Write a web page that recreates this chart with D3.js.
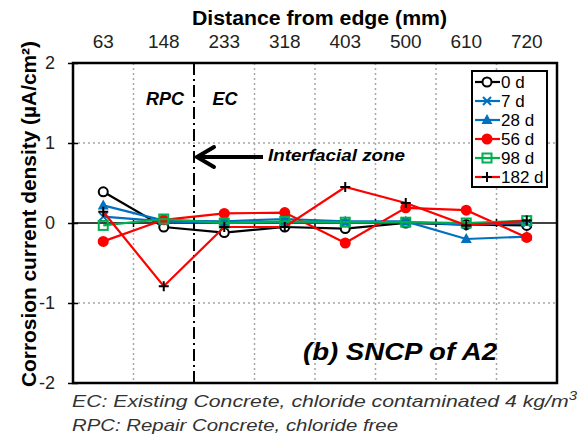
<!DOCTYPE html>
<html>
<head>
<meta charset="utf-8">
<script src="https://d3js.org/d3.v7.min.js"></script>
<style>
  body { margin: 0; background: #fff; }
  text { font-family: "Liberation Sans", Arial, sans-serif; }
</style>
</head>
<body>
<svg id="vis"></svg>
<script>
  // distances (mm) along the top axis
  var distances = ['63', '148', '233', '318', '403', '500', '610', '720'];
  var yTicks = [-2, -1, 0, 1, 2];

  // corrosion current density (uA/cm2) per age
  var d0   = [0.39, -0.05, -0.12, -0.05, -0.07, 0.00, -0.02, -0.03];
  var d7   = [0.08, 0.02, 0.00, 0.01, 0.00, 0.01, -0.02, 0.00];
  var d28  = [0.22, 0.03, 0.02, 0.05, 0.02, 0.02, -0.20, -0.17];
  var d56  = [-0.23, 0.04, 0.12, 0.13, -0.25, 0.19, 0.16, -0.18];
  var d98  = [-0.03, 0.05, 0.00, 0.02, 0.01, 0.01, 0.00, 0.03];
  var d182 = [0.14, -0.79, -0.05, -0.05, 0.45, 0.25, -0.03, 0.03];

  var series = [
    {name: '0 d',   values: d0,   line: '#000000', marker: 'circle-open', mcolor: '#000000'},
    {name: '7 d',   values: d7,   line: '#0070C0', marker: 'x',           mcolor: '#0070C0'},
    {name: '28 d',  values: d28,  line: '#0070C0', marker: 'triangle',    mcolor: '#0070C0'},
    {name: '56 d',  values: d56,  line: '#FF0000', marker: 'circle',      mcolor: '#FF0000'},
    {name: '98 d',  values: d98,  line: '#00B050', marker: 'square-open', mcolor: '#00B050'},
    {name: '182 d', values: d182, line: '#FF0000', marker: 'plus',        mcolor: '#000000'}
  ];

  var W = 584, H = 439;
  var pLeft = 73, pRight = 557, pTop = 63, pBottom = 383;

  var svg = d3.select('#vis').attr('width', W).attr('height', H);

  var x = d3.scaleBand().domain(distances).range([pLeft, pRight]);
  var y = d3.scaleLinear().domain([-2, 2]).range([pBottom, pTop]);

  // boundaries between categories
  var bounds = distances.slice(1).map(function(d) { return x(d); });

  // vertical gridlines (dotted) except the interface one
  svg.selectAll('.vgrid')
    .data(bounds.filter(function(b, i) { return i !== 1; }))
    .enter().append('line')
    .attr('x1', function(d) { return d; }).attr('x2', function(d) { return d; })
    .attr('y1', pTop).attr('y2', pBottom)
    .attr('stroke', '#a6a6a6').attr('stroke-width', 1.5)
    .attr('stroke-dasharray', '2,3');

  // horizontal gridlines
  svg.selectAll('.hgrid')
    .data([1, -1])
    .enter().append('line')
    .attr('x1', pLeft).attr('x2', pRight)
    .attr('y1', function(d) { return y(d); }).attr('y2', function(d) { return y(d); })
    .attr('stroke', '#a6a6a6').attr('stroke-width', 1.5)
    .attr('stroke-dasharray', '2,3');

  // interface line (dash-dot)
  svg.append('line')
    .attr('x1', bounds[1]).attr('x2', bounds[1])
    .attr('y1', pTop).attr('y2', pBottom)
    .attr('stroke', '#000').attr('stroke-width', 2)
    .attr('stroke-dasharray', '12,4,2,4');

  // zero line with category ticks
  svg.append('line')
    .attr('x1', pLeft).attr('x2', pRight)
    .attr('y1', y(0)).attr('y2', y(0))
    .attr('stroke', '#000').attr('stroke-width', 1.5);
  svg.selectAll('.xtick')
    .data(bounds)
    .enter().append('line')
    .attr('x1', function(d) { return d; }).attr('x2', function(d) { return d; })
    .attr('y1', y(0) - 4).attr('y2', y(0) + 4)
    .attr('stroke', '#000').attr('stroke-width', 1.5);

  // plot frame
  svg.append('rect')
    .attr('x', pLeft).attr('y', pTop)
    .attr('width', pRight - pLeft).attr('height', pBottom - pTop)
    .attr('fill', 'none').attr('stroke', '#000').attr('stroke-width', 2.5);

  // y axis
  var yAxis = svg.append('g')
    .attr('transform', 'translate(' + pLeft + ',0)')
    .call(d3.axisLeft(y).tickValues(yTicks).tickSize(5).tickPadding(13)
      .tickFormat(function(d) { return String(d); }));
  yAxis.select('.domain').remove();
  yAxis.selectAll('.tick line').attr('x1', 5).attr('x2', -5).attr('stroke-width', 1.5);
  yAxis.selectAll('text').attr('font-size', 18).attr('fill', '#222')
    .style('font-family', '"Liberation Sans", Arial, sans-serif');

  // top x axis
  var xAxis = svg.append('g')
    .attr('transform', 'translate(0,48)')
    .call(d3.axisTop(x).tickSize(0).tickPadding(0));
  xAxis.select('.domain').remove();
  xAxis.selectAll('text').attr('font-size', 19).attr('fill', '#222')
    .style('font-family', '"Liberation Sans", Arial, sans-serif');

  function fit(sel, w) {
    return sel.attr('textLength', w).attr('lengthAdjust', 'spacingAndGlyphs');
  }

  fit(svg.append('text')
    .attr('x', 192).attr('y', 25)
    .attr('font-size', 19.5).attr('font-weight', 'bold')
    .text('Distance from edge (mm)'), 255);

  fit(svg.append('text')
    .attr('transform', 'translate(36,214) rotate(-90)')
    .attr('text-anchor', 'middle')
    .attr('font-size', 20).attr('font-weight', 'bold')
    .text('Corrosion current density (µA/cm²)'), 346);

  // annotations
  svg.append('text').attr('x', 165).attr('y', 105).attr('text-anchor', 'middle')
    .attr('font-size', 18).attr('font-weight', 'bold').attr('font-style', 'italic').text('RPC');
  svg.append('text').attr('x', 225).attr('y', 105).attr('text-anchor', 'middle')
    .attr('font-size', 18).attr('font-weight', 'bold').attr('font-style', 'italic').text('EC');
  fit(svg.append('text').attr('x', 268).attr('y', 161)
    .attr('font-size', 17).attr('font-weight', 'bold').attr('font-style', 'italic').text('Interfacial zone'), 137);

  svg.append('line')
    .attr('x1', 263).attr('x2', 198).attr('y1', 157).attr('y2', 157)
    .attr('stroke', '#000').attr('stroke-width', 4);
  svg.append('path')
    .attr('d', 'M214,147 L197,157 L214,167')
    .attr('fill', 'none').attr('stroke', '#000').attr('stroke-width', 4)
    .attr('stroke-linecap', 'round');

  fit(svg.append('text').attr('x', 303).attr('y', 360)
    .attr('font-size', 23).attr('font-weight', 'bold').attr('font-style', 'italic').text('(b) SNCP of A2'), 194);

  fit(svg.append('text').attr('x', 72).attr('y', 407)
    .attr('font-size', 17).attr('font-style', 'italic').attr('fill', '#333')
    .html('EC: Existing Concrete, chloride contaminated 4 kg/m<tspan dy="-7" font-size="12">3</tspan>'), 505);
  fit(svg.append('text').attr('x', 72).attr('y', 431)
    .attr('font-size', 17).attr('font-style', 'italic').attr('fill', '#333')
    .text('RPC: Repair Concrete, chloride free'), 326);

  // markers
  function drawMarker(g, type, color, cx, cy) {
    if (type === 'circle-open') {
      g.append('circle').attr('cx', cx).attr('cy', cy).attr('r', 4.5)
        .attr('fill', '#fff').attr('stroke', color).attr('stroke-width', 2);
    } else if (type === 'circle') {
      g.append('circle').attr('cx', cx).attr('cy', cy).attr('r', 5.5).attr('fill', color);
    } else if (type === 'triangle') {
      g.append('path').attr('d', 'M' + cx + ',' + (cy - 6) + ' L' + (cx + 5.5) + ',' + (cy + 4) + ' L' + (cx - 5.5) + ',' + (cy + 4) + ' Z')
        .attr('fill', color);
    } else if (type === 'square-open') {
      g.append('rect').attr('x', cx - 4.5).attr('y', cy - 4.5).attr('width', 9).attr('height', 9)
        .attr('fill', 'none').attr('stroke', color).attr('stroke-width', 2);
    } else if (type === 'x') {
      g.append('path').attr('d', 'M' + (cx - 4) + ',' + (cy - 4) + ' L' + (cx + 4) + ',' + (cy + 4) + ' M' + (cx - 4) + ',' + (cy + 4) + ' L' + (cx + 4) + ',' + (cy - 4))
        .attr('stroke', color).attr('stroke-width', 2);
    } else if (type === 'plus') {
      g.append('path').attr('d', 'M' + (cx - 5) + ',' + cy + ' L' + (cx + 5) + ',' + cy + ' M' + cx + ',' + (cy - 5) + ' L' + cx + ',' + (cy + 5))
        .attr('stroke', color).attr('stroke-width', 2);
    }
  }

  var line = d3.line()
    .x(function(d, i) { return x(distances[i]) + x.bandwidth() / 2; })
    .y(function(d) { return y(d); });

  series.forEach(function(s) {
    var g = svg.append('g');
    g.append('path').datum(s.values)
      .attr('d', line).attr('fill', 'none')
      .attr('stroke', s.line).attr('stroke-width', 2.2);
    s.values.forEach(function(v, i) {
      drawMarker(g, s.marker, s.mcolor, x(distances[i]) + x.bandwidth() / 2, y(v));
    });
  });

  // legend
  var lg = svg.append('g');
  lg.append('rect').attr('x', 472).attr('y', 71).attr('width', 75).attr('height', 116)
    .attr('fill', '#fff').attr('stroke', '#000').attr('stroke-width', 2);
  series.forEach(function(s, i) {
    var ly = 82 + i * 19;
    lg.append('line').attr('x1', 475).attr('x2', 500).attr('y1', ly).attr('y2', ly)
      .attr('stroke', s.line).attr('stroke-width', 2.2);
    drawMarker(lg, s.marker, s.mcolor, 487, ly);
    lg.append('text').attr('x', 501).attr('y', ly + 6)
      .attr('font-size', 17).attr('fill', '#000').text(s.name);
  });
</script>
</body>
</html>
